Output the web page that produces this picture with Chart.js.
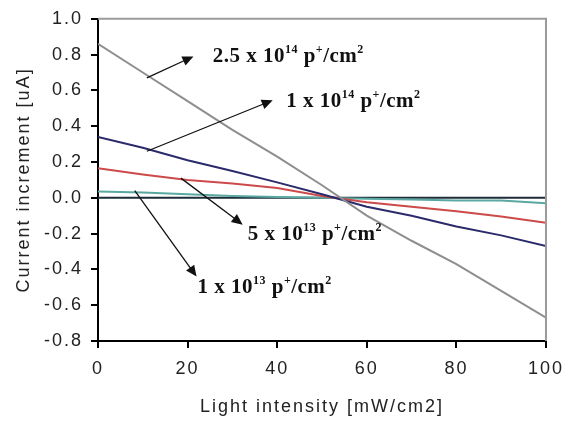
<!DOCTYPE html>
<html>
<head>
<meta charset="utf-8">
<script src="https://cdn.jsdelivr.net/npm/chart.js@4"></script>
<style>
  html, body { margin: 0; padding: 0; background: #fff; }
  #wrap { width: 571px; height: 421px; }
</style>
</head>
<body>
<div id="wrap"><canvas id="chart" width="571" height="421"></canvas></div>
<script>
// Values
const lightIntensity = [0, 10, 20, 30, 40, 50, 60, 70, 80, 90, 100];
const fluence25e14 = [0.86, 0.70, 0.54, 0.38, 0.23, 0.07, -0.10, -0.24, -0.37, -0.52, -0.67];
const fluence1e14 = [0.34, 0.28, 0.21, 0.15, 0.086, 0.02, -0.05, -0.10, -0.16, -0.21, -0.27];
const fluence5e13 = [0.165, 0.13, 0.10, 0.08, 0.055, 0.01, -0.025, -0.05, -0.075, -0.105, -0.14];
const fluence1e13 = [0.035, 0.03, 0.02, 0.01, 0.005, 0, -0.005, -0.01, -0.015, -0.015, -0.03];
const reference = [0, 0, 0, 0, 0, 0, 0, 0, 0, 0, 0];

// Annotation labels: mantissa, exponent; anchor (data units) and arrow from/to
const labels = [
    { base: "2.5 x 10", exp: "14", at: [25.6, 0.76], from: [10.9, 0.67], to: [21.3, 0.79] },
    { base: "1 x 10", exp: "14", at: [42, 0.505], from: [10.9, 0.26], to: [39, 0.545] },
    { base: "5 x 10", exp: "13", at: [33.4, -0.235], from: [18.5, 0.11], to: [32.3, -0.15] },
    { base: "1 x 10", exp: "13", at: [22.2, -0.53], from: [8.2, 0.04], to: [22, -0.44] }
];

function toPoints(ys) {
    return lightIntensity.map((x, i) => ({ x: x, y: ys[i] }));
}

function line(label, ys, color, width) {
    return {
        label: label,
        data: toPoints(ys),
        borderColor: color,
        borderWidth: width,
        pointRadius: 0,
        tension: 0,
        fill: false
    };
}

// wide lettering like the original sans-serif text
const spacing = {
    id: "spacing",
    beforeDraw(chart) { chart.ctx.letterSpacing = "2px"; }
};

// Top/right frame, arrows and fluence labels
const annotate = {
    id: "annotate",
    afterDatasetsDraw(chart) {
        const ctx = chart.ctx;
        const xs = chart.scales.x, ys = chart.scales.y;
        const area = chart.chartArea;

        ctx.save();
        ctx.strokeStyle = "#9a9a9a";
        ctx.lineWidth = 2;
        ctx.beginPath();
        ctx.moveTo(area.left, area.top);
        ctx.lineTo(area.right, area.top);
        ctx.lineTo(area.right, area.bottom);
        ctx.stroke();

        labels.forEach(l => {
            const x1 = xs.getPixelForValue(l.from[0]), y1 = ys.getPixelForValue(l.from[1]);
            const x2 = xs.getPixelForValue(l.to[0]), y2 = ys.getPixelForValue(l.to[1]);
            const a = Math.atan2(y2 - y1, x2 - x1);
            ctx.strokeStyle = "#111";
            ctx.fillStyle = "#111";
            ctx.lineWidth = 1.3;
            ctx.beginPath();
            ctx.moveTo(x1, y1);
            ctx.lineTo(x2 - 8 * Math.cos(a), y2 - 8 * Math.sin(a));
            ctx.stroke();
            ctx.beginPath();
            ctx.moveTo(x2, y2);
            ctx.lineTo(x2 - 11 * Math.cos(a) + 5 * Math.sin(a), y2 - 11 * Math.sin(a) - 5 * Math.cos(a));
            ctx.lineTo(x2 - 11 * Math.cos(a) - 5 * Math.sin(a), y2 - 11 * Math.sin(a) + 5 * Math.cos(a));
            ctx.closePath();
            ctx.fill();

            let tx = xs.getPixelForValue(l.at[0]);
            const ty = ys.getPixelForValue(l.at[1]);
            const big = "bold 21px 'Liberation Serif'";
            const small = "bold 12px 'Liberation Serif'";
            const parts = [
                [l.base, big, 0], [l.exp, small, -9], [" p", big, 0],
                ["+", small, -9], ["/cm", big, 0], ["2", small, -9]
            ];
            ctx.letterSpacing = "0.5px";
            ctx.textBaseline = "alphabetic";
            ctx.textAlign = "left";
            parts.forEach(p => {
                ctx.font = p[1];
                ctx.fillText(p[0], tx, ty + p[2]);
                tx += ctx.measureText(p[0]).width;
            });
        });
        ctx.restore();
    }
};

new Chart(document.getElementById("chart"), {
    type: "line",
    data: {
        datasets: [
            line("2.5 x 10^14 p+/cm2", fluence25e14, "#8e8e8e", 2),
            line("1 x 10^14 p+/cm2", fluence1e14, "#2b2b6b", 2),
            line("5 x 10^13 p+/cm2", fluence5e13, "#cc4a4a", 2),
            line("1 x 10^13 p+/cm2", fluence1e13, "#5aa8a2", 2),
            line("0", reference, "#1d2c38", 2)
        ]
    },
    options: {
        responsive: false,
        animation: false,
        layout: { padding: { top: 14, right: 24, bottom: 0, left: 0 } },
        plugins: { legend: { display: false }, tooltip: { enabled: false } },
        scales: {
            x: {
                type: "linear",
                min: 0,
                max: 100,
                afterFit: s => { s.height = 80; },
                ticks: { stepSize: 20, padding: 10, color: "#222", font: { family: "Liberation Sans", size: 18 } },
                grid: { drawOnChartArea: false, color: "#000", lineWidth: 2, tickLength: 7 },
                border: { color: "#000", width: 2 },
                title: {
                    display: true,
                    text: "Light intensity [mW/cm2]",
                    color: "#222",
                    font: { family: "Liberation Sans", size: 18 },
                    padding: { top: 0, bottom: 3 }
                }
            },
            y: {
                min: -0.8,
                max: 1.0,
                afterFit: s => { s.width = 98; },
                ticks: {
                    stepSize: 0.2,
                    padding: 8,
                    color: "#222",
                    font: { family: "Liberation Sans", size: 18 },
                    callback: v => v.toFixed(1)
                },
                grid: { drawOnChartArea: false, color: "#000", lineWidth: 2, tickLength: 7 },
                border: { color: "#000", width: 2 },
                title: {
                    display: true,
                    text: "Current increment [uA]",
                    color: "#222",
                    font: { family: "Liberation Sans", size: 18 },
                    padding: { top: 13, bottom: 0 }
                }
            }
        }
    },
    plugins: [spacing, annotate]
});
</script>
</body>
</html>
